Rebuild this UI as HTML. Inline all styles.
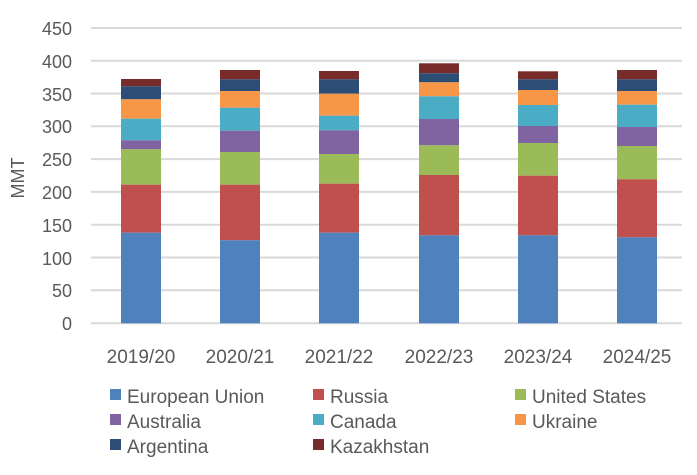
<!DOCTYPE html>
<html><head><meta charset="utf-8"><style>
body{margin:0;background:#fff;}
svg text{font-family:"Liberation Sans",sans-serif;fill:#595959;}
</style></head><body>
<svg width="697" height="470" xmlns="http://www.w3.org/2000/svg">
<g stroke="#d9d9d9" stroke-width="2">
<line x1="91" x2="682" y1="28" y2="28"/><line x1="91" x2="682" y1="60.7" y2="60.7"/>
<line x1="91" x2="682" y1="93.5" y2="93.5"/><line x1="91" x2="682" y1="126.3" y2="126.3"/>
<line x1="91" x2="682" y1="159.1" y2="159.1"/><line x1="91" x2="682" y1="191.9" y2="191.9"/>
<line x1="91" x2="682" y1="224.7" y2="224.7"/><line x1="91" x2="682" y1="257.5" y2="257.5"/>
<line x1="91" x2="682" y1="290.3" y2="290.3"/><line x1="91" x2="682" y1="323.3" y2="323.3"/>
</g>
<g font-size="18" text-anchor="end">
<text x="72" y="35">450</text><text x="72" y="68">400</text><text x="72" y="101">350</text>
<text x="72" y="133">300</text><text x="72" y="166">250</text><text x="72" y="199">200</text>
<text x="72" y="232">150</text><text x="72" y="265">100</text><text x="72" y="297">50</text>
<text x="72" y="330">0</text>
</g>
<text x="24" y="178" font-size="18" text-anchor="middle" transform="rotate(-90 24 178)">MMT</text>
<g id="bars">
<rect x="121" width="40" y="79" height="7.3" fill="#772C2A"/>
<rect x="121" width="40" y="86.3" height="13" fill="#2C4D75"/>
<rect x="121" width="40" y="99.3" height="19.4" fill="#F79646"/>
<rect x="121" width="40" y="118.7" height="21.6" fill="#4BACC6"/>
<rect x="121" width="40" y="140.3" height="9" fill="#8064A2"/>
<rect x="121" width="40" y="149.3" height="35.4" fill="#9BBB59"/>
<rect x="121" width="40" y="184.7" height="48" fill="#C0504D"/>
<rect x="121" width="40" y="232.7" height="90.6" fill="#4F81BD"/>
<rect x="220" width="40" y="70" height="9.3" fill="#772C2A"/>
<rect x="220" width="40" y="79.3" height="11.7" fill="#2C4D75"/>
<rect x="220" width="40" y="91" height="16.7" fill="#F79646"/>
<rect x="220" width="40" y="107.7" height="23" fill="#4BACC6"/>
<rect x="220" width="40" y="130.7" height="21.3" fill="#8064A2"/>
<rect x="220" width="40" y="152" height="32.7" fill="#9BBB59"/>
<rect x="220" width="40" y="184.7" height="55.6" fill="#C0504D"/>
<rect x="220" width="40" y="240.3" height="83" fill="#4F81BD"/>
<rect x="319" width="40" y="71" height="8.3" fill="#772C2A"/>
<rect x="319" width="40" y="79.3" height="14.4" fill="#2C4D75"/>
<rect x="319" width="40" y="93.7" height="22" fill="#F79646"/>
<rect x="319" width="40" y="115.7" height="14.6" fill="#4BACC6"/>
<rect x="319" width="40" y="130.3" height="23.7" fill="#8064A2"/>
<rect x="319" width="40" y="154" height="29.7" fill="#9BBB59"/>
<rect x="319" width="40" y="183.7" height="49" fill="#C0504D"/>
<rect x="319" width="40" y="232.7" height="90.6" fill="#4F81BD"/>
<rect x="419" width="40" y="63.3" height="10" fill="#772C2A"/>
<rect x="419" width="40" y="73.3" height="9" fill="#2C4D75"/>
<rect x="419" width="40" y="82.3" height="14" fill="#F79646"/>
<rect x="419" width="40" y="96.3" height="22.7" fill="#4BACC6"/>
<rect x="419" width="40" y="119" height="26.3" fill="#8064A2"/>
<rect x="419" width="40" y="145.3" height="29.7" fill="#9BBB59"/>
<rect x="419" width="40" y="175" height="60.3" fill="#C0504D"/>
<rect x="419" width="40" y="235.3" height="88" fill="#4F81BD"/>
<rect x="518" width="40" y="71.3" height="8" fill="#772C2A"/>
<rect x="518" width="40" y="79.3" height="10.7" fill="#2C4D75"/>
<rect x="518" width="40" y="90" height="15" fill="#F79646"/>
<rect x="518" width="40" y="105" height="21" fill="#4BACC6"/>
<rect x="518" width="40" y="126" height="17" fill="#8064A2"/>
<rect x="518" width="40" y="143" height="32.7" fill="#9BBB59"/>
<rect x="518" width="40" y="175.7" height="59.6" fill="#C0504D"/>
<rect x="518" width="40" y="235.3" height="88" fill="#4F81BD"/>
<rect x="617" width="40" y="70" height="9.3" fill="#772C2A"/>
<rect x="617" width="40" y="79.3" height="11.7" fill="#2C4D75"/>
<rect x="617" width="40" y="91" height="13.7" fill="#F79646"/>
<rect x="617" width="40" y="104.7" height="22.3" fill="#4BACC6"/>
<rect x="617" width="40" y="127" height="19" fill="#8064A2"/>
<rect x="617" width="40" y="146" height="33.3" fill="#9BBB59"/>
<rect x="617" width="40" y="179.3" height="58" fill="#C0504D"/>
<rect x="617" width="40" y="237.3" height="86" fill="#4F81BD"/>
</g>
<g font-size="19" text-anchor="middle">
<text x="141" y="363">2019/20</text><text x="240" y="363">2020/21</text>
<text x="339" y="363">2021/22</text><text x="439" y="363">2022/23</text>
<text x="538" y="363">2023/24</text><text x="637" y="363">2024/25</text>
</g>
<g font-size="19">
<rect x="110" y="389" width="11" height="11" fill="#4F81BD"/><text x="127" y="403">European Union</text>
<rect x="313" y="389" width="11" height="11" fill="#C0504D"/><text x="330" y="403">Russia</text>
<rect x="515" y="389" width="11" height="11" fill="#9BBB59"/><text x="532" y="403">United States</text>
<rect x="110" y="414" width="11" height="11" fill="#8064A2"/><text x="127" y="428">Australia</text>
<rect x="313" y="414" width="11" height="11" fill="#4BACC6"/><text x="330" y="428">Canada</text>
<rect x="515" y="414" width="11" height="11" fill="#F79646"/><text x="532" y="428">Ukraine</text>
<rect x="110" y="439" width="11" height="11" fill="#2C4D75"/><text x="127" y="453">Argentina</text>
<rect x="313" y="439" width="11" height="11" fill="#772C2A"/><text x="330" y="453">Kazakhstan</text>
</g>
</svg>
</body></html>
